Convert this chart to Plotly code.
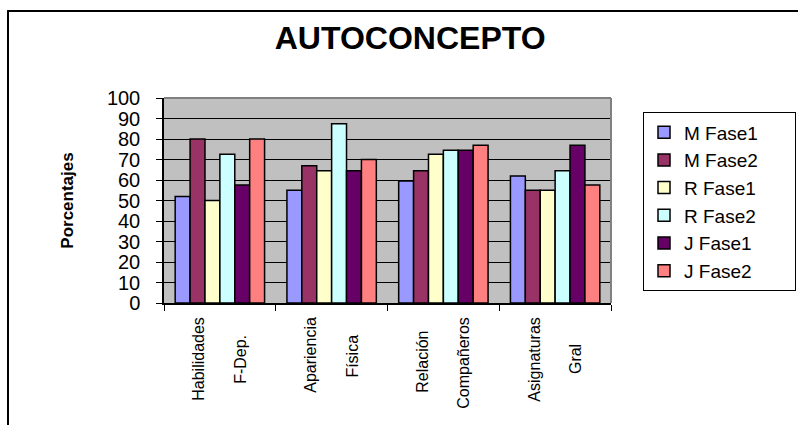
import plotly.graph_objects as go

# Dimensiones evaluadas (dos líneas por etiqueta)
categorias = ["Habilidades F-Dep.", "Apariencia Física", "Relación Compañeros", "Asignaturas Gral"]
etiquetas = [
    "Habilidades<br>\u00a0<br>F-Dep.\u00a0\u00a0\u00a0\u00a0",
    "Apariencia<br>\u00a0<br>Física\u00a0\u00a0\u00a0\u00a0",
    "Relación\u00a0\u00a0\u00a0<br>\u00a0<br>Compañeros",
    "Asignaturas<br>\u00a0<br>Gral\u00a0\u00a0\u00a0\u00a0\u00a0\u00a0",
]

# Porcentajes por grupo y fase
m_fase1 = [52, 55, 59.5, 62]
m_fase2 = [80, 67, 64.5, 55]
r_fase1 = [50, 64.5, 72.5, 55]
r_fase2 = [72.5, 87.5, 74.5, 64.5]
j_fase1 = [57.5, 64.5, 74.5, 77]
j_fase2 = [80, 70, 77, 57.5]

series = [
    ("M Fase1", m_fase1, "#9999FF"),
    ("M Fase2", m_fase2, "#993366"),
    ("R Fase1", r_fase1, "#FFFFCC"),
    ("R Fase2", r_fase2, "#CCFFFF"),
    ("J Fase1", j_fase1, "#660066"),
    ("J Fase2", j_fase2, "#FF8080"),
]

FONT = "Liberation Sans, Arial, sans-serif"
PAD = "\u00a0" * 6

fig = go.Figure()
for nombre, valores, color in series:
    fig.add_trace(go.Bar(
        x=categorias,
        y=valores,
        name=nombre + PAD,
        marker=dict(color=color, line=dict(color="black", width=1.5)),
    ))

fig.update_layout(
    width=798,
    height=425,
    margin=dict(l=164, r=187, t=98, b=122, autoexpand=False),
    paper_bgcolor="white",
    plot_bgcolor="#C0C0C0",
    barmode="group",
    bargap=0.2,
    bargroupgap=0,
    font=dict(family=FONT, color="black"),
    title=dict(
        text="<b>AUTOCONCEPTO</b>",
        x=0.514, xref="container", xanchor="center",
        y=0.91, yref="container", yanchor="middle",
        font=dict(size=32, family=FONT, color="black"),
    ),
    legend=dict(
        x=1.0716, xanchor="left",
        y=0.93, yanchor="top",
        bgcolor="white",
        bordercolor="black",
        borderwidth=1,
        font=dict(size=19, family=FONT, color="black"),
        traceorder="normal",
    ),
    xaxis=dict(
        tickmode="array",
        tickvals=categorias,
        ticktext=etiquetas,
        tickangle=-90,
        tickson="boundaries",
        ticks="outside",
        ticklen=6,
        tickcolor="black",
        ticklabelstandoff=6,
        showline=True,
        linecolor="black",
        linewidth=1.5,
        showgrid=False,
        tickfont=dict(size=16, family=FONT, color="black"),
    ),
    yaxis=dict(
        range=[0, 100],
        dtick=10,
        ticks="outside",
        ticklen=6,
        tickcolor="black",
        ticklabelstandoff=12,
        showline=True,
        linecolor="black",
        linewidth=1.5,
        showgrid=True,
        gridcolor="black",
        gridwidth=1,
        zeroline=False,
        tickfont=dict(size=20, family=FONT, color="black"),
        title=dict(text="<b>Porcentajes</b>", font=dict(size=17, family=FONT, color="black"), standoff=29),
    ),
    shapes=[
        # borde gris superior y derecho del área de trazado
        dict(type="line", xref="paper", yref="paper", x0=0, x1=1, y0=1, y1=1,
             line=dict(color="#808080", width=2), layer="above"),
        dict(type="line", xref="paper", yref="paper", x0=1, x1=1, y0=0, y1=1,
             line=dict(color="#808080", width=2), layer="above"),
        # marco exterior del gráfico
        dict(type="line", xref="paper", yref="paper", x0=-0.351, x1=1.6, y0=1.4244, y1=1.4244,
             line=dict(color="black", width=2)),
        dict(type="line", xref="paper", yref="paper", x0=-0.349, x1=-0.349, y0=1.4244, y1=-0.8,
             line=dict(color="black", width=2)),
    ],
)

fig.write_html("out.html")
